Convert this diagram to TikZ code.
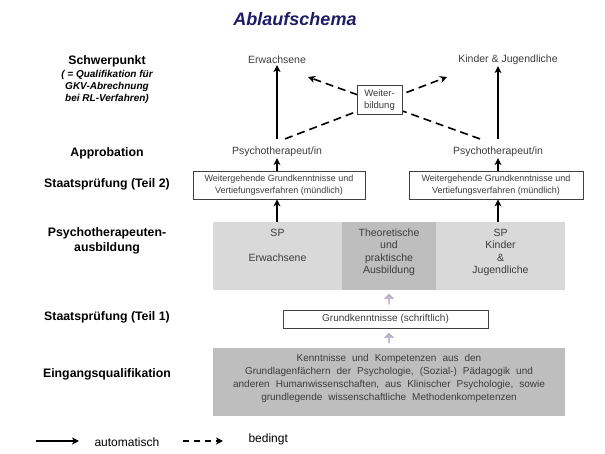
\documentclass[tikz,border=0pt]{standalone}
\usepackage{fontspec}
\setmainfont{Liberation Sans}
\usetikzlibrary{arrows.meta,shapes.arrows}
\definecolor{titleblue}{RGB}{28,28,105}
\definecolor{txtgray}{RGB}{60,60,60}
\definecolor{bandlight}{RGB}{217,217,217}
\definecolor{banddark}{RGB}{190,190,190}
\definecolor{lilac}{RGB}{192,176,214}
\newcommand{\widespaces}{\spaceskip=6pt plus 1pt\relax}

\begin{document}
\begin{tikzpicture}[x=1pt,y=-1pt,
		>={Stealth[length=7pt,width=7pt,inset=2pt]},
		stage/.style={font=\fontsize{12.3}{14}\selectfont\bfseries, align=center, inner sep=0pt},
		endtext/.style={font=\fontsize{10.5}{12.5}\selectfont, text=txtgray, align=center, inner sep=1pt},
		exambox/.style={draw=black!75, line width=0.7pt, fill=white, font=\fontsize{9}{11.5}\selectfont, text=txtgray, align=center, inner sep=0pt},
		band/.style={fill=bandlight, minimum height=68pt, inner sep=0pt},
		bandtext/.style={font=\fontsize{10.5}{12.5}\selectfont, text=txtgray, align=center, inner sep=0pt, anchor=north},
		autoarr/.style={->, line width=1.6pt},
		condarr/.style={->, line width=1.6pt, dash pattern=on 8pt off 5pt},
		hint/.style={single arrow, shape border rotate=90, fill=lilac, draw=gray!65, line width=0.4pt, minimum width=9pt, minimum height=10pt, single arrow head extend=1.5pt, inner sep=0pt}]
	\useasboundingbox (0,0) rectangle (605,454);
	% title
	\node[font=\fontsize{18}{22}\selectfont\bfseries\itshape, text=titleblue] (title) at (295,19) {Ablaufschema};
	% stages on the left
	\node[stage] (lschwer) at (107,61) {Schwerpunkt};
	\node[stage, font=\fontsize{10}{12}\selectfont\bfseries\itshape] (lnote) at (107,87) {( = Qualifikation für\\GKV-Abrechnung\\bei RL-Verfahren)};
	\node[stage] (lappro) at (107,153) {Approbation};
	\node[stage] (lsp2) at (107,184) {Staatsprüfung (Teil 2)};
	\node[stage, font=\fontsize{12.3}{15}\selectfont\bfseries] (lausb) at (107,241) {Psychotherapeuten-\\ausbildung};
	\node[stage] (lsp1) at (107,317) {Staatsprüfung (Teil 1)};
	\node[stage] (leing) at (107,374) {Eingangsqualifikation};
	% Schwerpunkt and Approbation
	\node[endtext] (erw) at (277,60) {Erwachsene};
	\node[endtext] (kij) at (508,60) {Kinder \& Jugendliche};
	\node[endtext] (psyl) at (277,152) {Psychotherapeut/in};
	\node[endtext] (psyr) at (498,152) {Psychotherapeut/in};
	\coordinate (tipl) at (308,77);
	\coordinate (tipr) at (447,77);
	\draw[condarr] ([xshift=8pt,yshift=7pt]psyl.north) -- (tipr);
	\draw[condarr] ([xshift=-18pt,yshift=7pt]psyr.north) -- (tipl);
	\node[exambox, minimum width=45pt, minimum height=29pt, font=\fontsize{9.5}{11.5}\selectfont] (wb) at (379.5,100) {Weiter-\\bildung};
	\draw[autoarr] ([yshift=7pt]psyl.north) -- (erw.south);
	\draw[autoarr] ([yshift=7pt]psyr.north) -- (kij.south -| psyr.north);
	% Staatspruefung Teil 2
	\node[exambox, minimum width=172pt, minimum height=28pt] (spl) at (279,185) {Weitergehende Grundkenntnisse und\\Vertiefungsverfahren (mündlich)};
	\node[exambox, minimum width=174pt, minimum height=28pt] (spr) at (496,185) {Weitergehende Grundkenntnisse und\\Vertiefungsverfahren (mündlich)};
	\draw[autoarr] (spl.north -| psyl) -- (psyl.south);
	\draw[autoarr] (spr.north -| psyr) -- (psyr.south);
	% Ausbildung
	\node[band, minimum width=129pt] (bl) at (277.5,256) {};
	\node[band, minimum width=94pt, fill=banddark] (bm) at (389,256) {};
	\node[band, minimum width=129pt] (br) at (500.5,256) {};
	\node[bandtext] (tbl) at (277.5,228.5) {SP\\[12.5pt]Erwachsene};
	\node[bandtext] (tbm) at (389,228.5) {Theoretische\\und\\praktische\\Ausbildung};
	\node[bandtext] (tbr) at (500.5,228.5) {SP\\Kinder\\\&\\Jugendliche};
	\draw[autoarr] (bl.north -| psyl) -- (spl.south -| psyl);
	\draw[autoarr] (br.north -| psyr) -- (spr.south -| psyr);
	% Staatspruefung Teil 1 and Eingangsqualifikation
	\node[hint] (h1) at (389,299.5) {};
	\node[exambox, minimum width=205pt, minimum height=18pt, font=\fontsize{10}{11.5}\selectfont] (gk) at (385.5,319) {Grundkenntnisse (schriftlich)};
	\node[hint] (h2) at (389,338.5) {};
	\node[fill=banddark, minimum width=352pt, minimum height=68pt, inner sep=0pt] (eq) at (389,382) {};
	\node[font=\fontsize{10}{13}\selectfont\widespaces, text=txtgray, align=center, inner sep=0pt] (teq) at (389,378.5) {Kenntnisse und Kompetenzen aus den\\Grundlagenfächern der Psychologie, (Sozial-) Pädagogik und\\anderen Humanwissenschaften, aus Klinischer Psychologie, sowie\\grundlegende wissenschaftliche Methodenkompetenzen};
	% legend
	\coordinate (la1) at (36,441);
	\coordinate (la2) at (79,441);
	\coordinate (lb1) at (183,441);
	\coordinate (lb2) at (223,441);
	\draw[autoarr] (la1) -- (la2);
	\draw[condarr, dash pattern=on 6pt off 5pt] (lb1) -- (lb2);
	\node[font=\fontsize{12}{14}\selectfont, anchor=west] (lauto) at (91,442) {automatisch};
	\node[font=\fontsize{12}{14}\selectfont, anchor=west] (lcond) at (245,439) {bedingt};
\end{tikzpicture}
\end{document}
